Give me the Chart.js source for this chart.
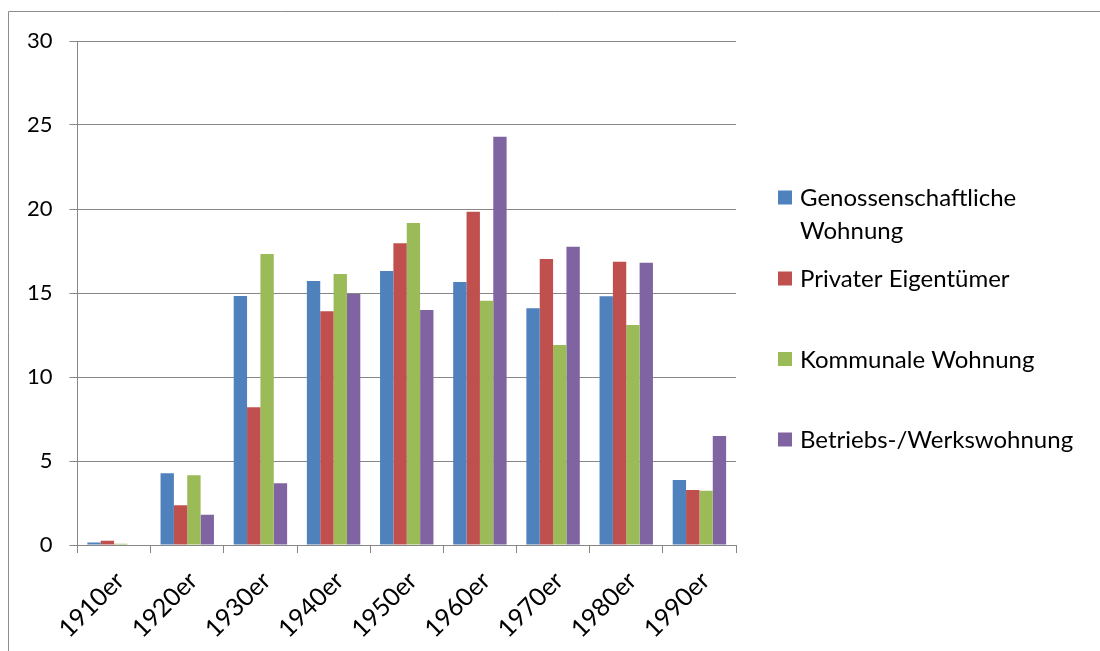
<!DOCTYPE html>
<html>
<head>
<meta charset="utf-8">
<script src="https://cdn.jsdelivr.net/npm/chart.js@4/dist/chart.umd.min.js"></script>
<style>
html,body{margin:0;padding:0;background:#fff;}
#wrap{width:1100px;height:651px;position:relative;}
</style>
</head>
<body>
<div id="wrap"><canvas id="c" width="1100" height="651"></canvas></div>
<script>
const categories = ['1910er','1920er','1930er','1940er','1950er','1960er','1970er','1980er','1990er'];
const seriesNames = ['Genossenschaftliche Wohnung','Privater Eigentümer','Kommunale Wohnung','Betriebs-/Werkswohnung'];
const legendLines = [['Genossenschaftliche','Wohnung'],['Privater Eigentümer'],['Kommunale Wohnung'],['Betriebs-/Werkswohnung']];
const genossenschaftlich = [0.15, 4.27, 14.82, 15.71, 16.31, 15.65, 14.09, 14.80, 3.87];
const privat = [0.25, 2.36, 8.2, 13.91, 17.96, 19.84, 17.02, 16.86, 3.27];
const kommunal = [0.08, 4.15, 17.32, 16.13, 19.17, 14.54, 11.9, 13.10, 3.23];
const betrieb = [0, 1.80, 3.67, 14.94, 13.99, 24.30, 17.76, 16.80, 6.49];
const yTicks = [0, 5, 10, 15, 20, 25, 30];
const colors = ['#4F81BD','#C0504D','#9BBB59','#8064A2'];

const FONT = 'Lato, "Open Sans", sans-serif';
const values = [genossenschaftlich, privat, kommunal, betrieb];

const frame = {
  id: 'frame',
  beforeDraw(chart) {
    const ctx = chart.ctx;
    ctx.save();
    ctx.strokeStyle = '#8c8c8c';
    ctx.lineWidth = 1;
    ctx.beginPath();
    ctx.moveTo(8.5, 651);
    ctx.lineTo(8.5, 11.5);
    ctx.lineTo(1100, 11.5);
    ctx.stroke();
    ctx.restore();
  }
};

const customLegend = {
  id: 'customLegend',
  afterDraw(chart) {
    const ctx = chart.ctx;
    const centers = [197.5, 278.5, 359, 439.5];
    ctx.save();
    ctx.font = '24px ' + FONT;
    ctx.textBaseline = 'alphabetic';
    chart.data.datasets.forEach((ds, i) => {
      const cy = centers[i];
      ctx.fillStyle = ds.backgroundColor;
      ctx.fillRect(778, cy - 7, 14, 14);
      ctx.fillStyle = '#000';
      legendLines[i].forEach((line, j) => {
        ctx.fillText(line, 800, cy + 8.5 + j * 32.5);
      });
    });
    ctx.restore();
  }
};

new Chart(document.getElementById('c'), {
  type: 'bar',
  data: {
    labels: categories,
    datasets: seriesNames.map((name, i) => ({
      label: name,
      data: values[i],
      backgroundColor: colors[i],
      borderWidth: 0,
      barPercentage: 1.0,
      categoryPercentage: 0.73
    }))
  },
  options: {
    responsive: false,
    animation: false,
    devicePixelRatio: 1,
    layout: { padding: { left: 0, right: 364, top: 41, bottom: 0 } },
    plugins: {
      legend: { display: false },
      tooltip: { enabled: false }
    },
    scales: {
      x: {
        grid: { display: true, drawOnChartArea: false, drawTicks: true, tickLength: 8, color: '#868686', offset: true },
        border: { display: true, color: '#868686', width: 1 },
        ticks: { color: '#000', font: { family: FONT, size: 25 }, minRotation: 45, maxRotation: 45, padding: 13, labelOffset: 6 },
        afterFit(scale) { scale.height = 106; }
      },
      y: {
        min: 0, max: 30,
        afterBuildTicks(scale) { scale.ticks = yTicks.map(v => ({ value: v })); },
        grid: { color: '#868686', lineWidth: 1, drawTicks: true, tickLength: 8 },
        border: { display: true, color: '#868686', width: 1 },
        ticks: { color: '#000', font: { family: FONT, size: 22 }, padding: 17 },
        afterFit(scale) { scale.width = 77.5; }
      }
    }
  },
  plugins: [frame, customLegend]
});
</script>
</body>
</html>
